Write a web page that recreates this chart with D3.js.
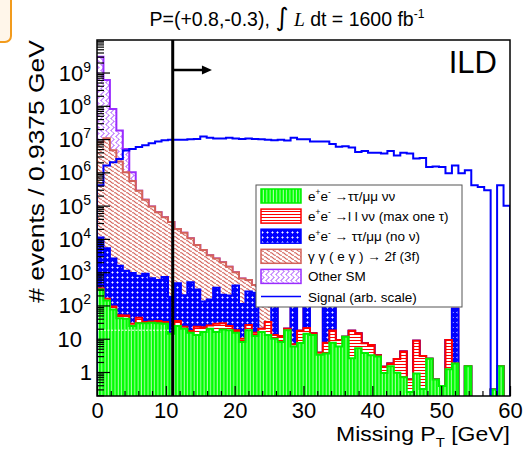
<!DOCTYPE html>
<html>
<head>
<meta charset="utf-8">
<script src="https://cdn.jsdelivr.net/npm/d3@7"></script>
<style>
  body { margin: 0; background: #fff; }
  text { font-family: "Liberation Sans", Arial, sans-serif; fill: #000; }
</style>
</head>
<body>
<div class="chart"></div>
<script>
/* Binning: 64 bins of 0.9375 GeV over 0-60 GeV */
const binWidth = 0.9375;
const nBins = 64;

/* Per-process contributions per bin (stacked bottom -> top) */
const green = [300,140,75,41,40,24,29,29,30,29, 28,14,24,20,15,13,16,20,16,19,
  18,15,8,18,12,16,13,10,8,18, 5.8,7.5,14,13,3.3,3.6,7.6,5.8,11.5,2.6,
  5.2,3.7,3.2,2.9,0.93,1.5,0.95,0.7,0.25,0.9, 0.31,2.5,0.6,0.38,1.2,1.8,0,1.5,0,0,
  0,0.3,1.5,0];
const red = [30,20,18,10,10,4,14,3,3,5, 4,0,10,3,2,10,6,5,12,10,
  6,3,2,8,3,4,19,3,4,2, 1,10,7,1.5,0.5,4,10,3.3,0,14.8,
  9.3,3.6,3.3,0.3,0.5,0.3,1.5,3.4,0.35,7.8, 2.7,0,0,0,7.9,0,0,0,0,0,
  0,0,0,0];
const blue = [10700,5040,2500,1500,1050,920,740,870,620,550, 690,170,430,180,480,280,110,125,310,180,
  175,380,100,235,225,0,0,290,0,0, 245,0,280,0,0,245,230,0,0,0,
  0,0,0,0,0,0,0,0,0,0, 0,0,0,0,0,78,0,0,0,0,
  0,0,0,0];
const gammaGamma = [8.0e6,1.05e7,4.6e6,2.1e6,1.0e6,5.5e5,2.8e5,1.5e5,9.4e4,6.3e4,
  4.4e4,3.2e4,1.95e4,1.5e4,1.0e4,6200,4470,3050,2260,1790,
  1250,600,540,320,170,260,148,0,0,0, 0,0,0,0,0,0,0,0,0,0,
  0,0,0,0,0,0,0,0,0,0, 0,0,0,0,0,0,0,0,0,0,
  0,0,0,0];
const otherSM = [2.99e9,5.9e8,7.5e7,1.6e7,4.0e6,4.5e5,0,0,0,0,
  0,0,0,0,0,0,0,0,0,0, 0,0,0,0,0,0,0,0,0,0, 0,0,0,0,0,0,0,0,0,0,
  0,0,0,0,0,0,0,0,0,0, 0,0,0,0,0,0,0,0,0,0, 0,0,0,0];
const signal = [4.1e5,1.6e6,2.0e6,2.5e6,4.5e6,5.0e6,5.8e6,6.5e6,7.5e6,8.5e6,
  9.3e6,9.5e6,9.6e6,9.5e6,9.8e6,1.0e7,1.2e7,1.1e7,1.05e7,1.05e7,
  1.1e7,1.05e7,1.0e7,1.05e7,1.0e7,9.8e6,9.5e6,9.2e6,9.5e6,9.0e6,
  1.1e7,9.9e6,9.9e6,8.5e6,8.5e6,8.5e6,7.1e6,5.9e6,6.1e6,5.6e6,
  4.1e6,4.4e6,3.9e6,3.9e6,3.7e6,4.4e6,3.2e6,3.9e6,3.7e6,2.6e6,
  2.7e6,1.45e6,1.5e6,1.45e6,9.4e5,1.6e6,9.4e5,1.15e6,4.1e5,3.6e5,
  2.9e5,0,4.1e5,1.0e5];

/* Axis ticks */
const xMajor = [0,10,20,30,40,50,60];
const yMajorExp = [0,1,2,3,4,5,6,7,8,9];

/* Cut at 11 GeV, arrow towards larger values */
const cutValue = 11;
const arrowEnd = 16.7;
const arrowLevel = 1.2e9;
const whiteTrace = { level: 18, from: 0, to: 11 };

const legendLabels = [
  [{t:"e"},{t:"+",s:"sup"},{t:"e"},{t:"-",s:"sup"},{t:" \u2192\u03c4\u03c4/\u03bc\u03bc  \u03bd\u03bd"}],
  [{t:"e"},{t:"+",s:"sup"},{t:"e"},{t:"-",s:"sup"},{t:" \u2192l l  \u03bd\u03bd (max one \u03c4)"}],
  [{t:"e"},{t:"+",s:"sup"},{t:"e"},{t:"-",s:"sup"},{t:" \u2192 \u03c4\u03c4/\u03bc\u03bc (no \u03bd)"}],
  [{t:"\u03b3 \u03b3 ( e \u03b3 ) \u2192 2f (3f)"}],
  [{t:"Other SM"}],
  [{t:"Signal (arb. scale)"}]
];

/* Dimensions */
const w = 531, h = 450;
const fx0 = 97, fx1 = 510, fy0 = 40, fy1 = 396;
const floorVal = 0.05;

const xScale = d3.scaleLinear().domain([0, 60]).range([fx0, fx1]);
const yScale = d3.scaleLog().domain([0.19, 9.5e9]).range([fy1, fy0]);

const svg = d3.select(".chart").append("svg")
  .attr("width", w).attr("height", h);

svg.append("rect").attr("width", w).attr("height", h).attr("fill", "#fff");

/* slide corner decoration */
svg.append("rect")
  .attr("x", -20).attr("y", -20).attr("width", 31).attr("height", 62).attr("rx", 6)
  .attr("fill", "#fff6ea").attr("stroke", "#f29b1d").attr("stroke-width", 2);

/* Fill patterns */
const defs = svg.append("defs");
const pat = (id, pw, ph, bg) => {
  const p = defs.append("pattern").attr("id", id).attr("patternUnits", "userSpaceOnUse")
    .attr("width", pw).attr("height", ph);
  p.append("rect").attr("width", pw).attr("height", ph).attr("fill", bg);
  return p;
};
pat("pGreen", 3.3, 6, "#00ff00").append("rect")
  .attr("x", 2.3).attr("width", 0.9).attr("height", 6).attr("fill", "#fff").attr("opacity", 0.75);
pat("pRed", 6, 3, "#fff").append("path")
  .attr("d", "M0,1.5H6").attr("stroke", "#ff0000").attr("stroke-width", 1);
pat("pBlue", 5, 5, "#0000ff").append("path")
  .attr("d", "M1.3,2.5h2.4M2.5,1.3v2.4").attr("stroke", "#fff").attr("stroke-width", 0.8);
pat("pSalmon", 6, 4, "#fff").append("path")
  .attr("d", "M0,0.8H1.6L4.4,3.2H6").attr("stroke", "#d4625a").attr("stroke-width", 1.05).attr("fill", "none");
pat("pPurple", 5, 6, "#fff").append("path")
  .attr("d", "M2.5,0C4.5,1.5 4.5,1.5 2.5,3C0.5,4.5 0.5,4.5 2.5,6")
  .attr("stroke", "#9a2cff").attr("stroke-width", 1).attr("fill", "none");

svg.append("clipPath").attr("id", "frameClip").append("rect")
  .attr("x", fx0).attr("y", fy0).attr("width", fx1 - fx0).attr("height", fy1 - fy0);

/* Stack the backgrounds */
const layers = [
  { values: green, stroke: "#00ee00", fill: "url(#pGreen)" },
  { values: red, stroke: "#ff0000", fill: "url(#pRed)" },
  { values: blue, stroke: "#0000ff", fill: "url(#pBlue)" },
  { values: gammaGamma, stroke: "#d4625a", fill: "url(#pSalmon)" },
  { values: otherSM, stroke: "#9a2cff", fill: "url(#pPurple)" }
];
let running = new Array(nBins).fill(0);
layers.forEach(l => {
  running = running.map((v, i) => v + l.values[i]);
  l.cum = running.slice();
});

const edges = d3.range(nBins + 1).map(i => i * binWidth);
const stepPoints = (vals) => {
  const pts = [[edges[0], floorVal]];
  vals.forEach((v, i) => pts.push([edges[i], Math.max(v, floorVal)]));
  pts.push([edges[nBins], Math.max(vals[nBins - 1], floorVal)]);
  pts.push([edges[nBins], floorVal]);
  return pts;
};
const area = d3.area().x(d => xScale(d[0])).y0(yScale(floorVal)).y1(d => yScale(d[1]))
  .curve(d3.curveStepAfter);
const line = d3.line().x(d => xScale(d[0])).y(d => yScale(d[1])).curve(d3.curveStepAfter);

const plot = svg.append("g").attr("clip-path", "url(#frameClip)");

layers.slice().reverse().forEach(l => {
  const pts = stepPoints(l.cum);
  plot.append("path").attr("d", area(pts)).attr("fill", l.fill);
  plot.append("path").attr("d", line(pts)).attr("fill", "none")
    .attr("stroke", l.stroke).attr("stroke-width", 2);
});

/* white dotted trace inside the green */
plot.append("line")
  .attr("x1", xScale(whiteTrace.from)).attr("x2", xScale(whiteTrace.to))
  .attr("y1", yScale(whiteTrace.level)).attr("y2", yScale(whiteTrace.level))
  .attr("stroke", "#fff").attr("stroke-width", 1).attr("stroke-dasharray", "2,1.5");

/* signal */
plot.append("path").attr("d", line(stepPoints(signal))).attr("fill", "none")
  .attr("stroke", "#0000ff").attr("stroke-width", 2);

/* cut line and arrow */
svg.append("line")
  .attr("x1", xScale(cutValue)).attr("x2", xScale(cutValue))
  .attr("y1", fy0).attr("y2", fy1)
  .attr("stroke", "#000").attr("stroke-width", 3);
svg.append("line")
  .attr("x1", xScale(cutValue)).attr("x2", xScale(arrowEnd) - 6)
  .attr("y1", yScale(arrowLevel)).attr("y2", yScale(arrowLevel))
  .attr("stroke", "#000").attr("stroke-width", 2.5);
const ax = xScale(arrowEnd), ay = yScale(arrowLevel);
svg.append("path")
  .attr("d", `M${ax},${ay}L${ax - 10},${ay - 4.5}L${ax - 10},${ay + 4.5}Z`)
  .attr("fill", "#000");

/* Axes (ticks inside the frame) */
const xMinor = d3.range(0, 61, 2).filter(v => v % 10 !== 0);
svg.append("g").attr("transform", `translate(0,${fy1})`)
  .call(d3.axisBottom(xScale).tickValues(xMinor).tickSize(-5).tickFormat(""))
  .call(g => g.select(".domain").remove());
svg.append("g").attr("transform", `translate(0,${fy1})`)
  .call(d3.axisBottom(xScale).tickValues(xMajor).tickSize(-10).tickPadding(6).tickFormat(d3.format("d")))
  .call(g => g.select(".domain").remove())
  .call(g => g.selectAll("text").attr("font-size", 22).attr("font-family", "Liberation Sans, Arial, sans-serif").attr("fill", "#000"));

const yMajor = yMajorExp.map(e => Math.pow(10, e));
const yMinor = [];
d3.range(-1, 10).forEach(e => d3.range(2, 10).forEach(m => {
  const v = m * Math.pow(10, e);
  if (v >= 0.19 && v <= 9.5e9) yMinor.push(v);
}));
svg.append("g").attr("transform", `translate(${fx0},0)`)
  .call(d3.axisLeft(yScale).tickValues(yMinor).tickSize(-7).tickFormat(""))
  .call(g => g.select(".domain").remove());
svg.append("g").attr("transform", `translate(${fx0},0)`)
  .call(d3.axisLeft(yScale).tickValues(yMajor).tickSize(-13).tickFormat(""))
  .call(g => g.select(".domain").remove());
svg.selectAll(".tick line").attr("stroke", "#000").attr("stroke-width", 1.2);

/* y tick labels, ROOT style 10^n */
const yLab = svg.append("g");
yMajorExp.forEach(e => {
  const yy = yScale(Math.pow(10, e)) + 8;
  if (e === 0) {
    yLab.append("text").attr("x", 92).attr("y", yy).attr("text-anchor", "end")
      .attr("font-size", 22).text("1");
  } else if (e === 1) {
    yLab.append("text").attr("x", 82).attr("y", yy).attr("text-anchor", "end")
      .attr("font-size", 22).text("10");
  } else {
    const t = yLab.append("text").attr("x", 91).attr("y", yy).attr("text-anchor", "end")
      .attr("font-size", 22);
    t.append("tspan").text("10");
    t.append("tspan").attr("font-size", 14).attr("dy", -9).text(e);
  }
});

/* Frame */
svg.append("rect").attr("x", fx0).attr("y", fy0)
  .attr("width", fx1 - fx0).attr("height", fy1 - fy0)
  .attr("fill", "none").attr("stroke", "#000").attr("stroke-width", 1.5);

/* rich text helper: sup / sub / italic / big parts */
const richText = (sel, parts, size) => {
  let shift = 0;
  parts.forEach(p => {
    const t = sel.append("tspan").text(p.t);
    let target = 0;
    if (p.s === "sup") { target = -size * 0.42; t.attr("font-size", size * 0.62); }
    else if (p.s === "sub") { target = size * 0.3; t.attr("font-size", size * 0.65); }
    else if (p.s === "i") { t.attr("font-style", "italic").attr("font-family", "Liberation Serif, serif"); }
    else if (p.s === "big") { t.attr("font-size", size * 1.3).attr("font-family", "DejaVu Sans, sans-serif"); }
    if (target !== shift) { t.attr("dy", target - shift); shift = target; }
  });
};

/* Titles */
const title = svg.append("text").attr("x", 287).attr("y", 26).attr("text-anchor", "middle")
  .attr("font-size", 19.5);
richText(title, [{t:"P=(+0.8,-0.3), "},{t:"\u222b",s:"big"},{t:" "},{t:"L",s:"i"},
  {t:" dt = 1600 fb"},{t:"-1",s:"sup"}], 19.5);

const xTitle = svg.append("text").attr("transform", "translate(510,441) scale(1.15,1)")
  .attr("x", 0).attr("y", 0).attr("text-anchor", "end")
  .attr("font-size", 20);
richText(xTitle, [{t:"Missing P"},{t:"T",s:"sub"},{t:" [GeV]"}], 20);

svg.append("text").attr("transform", "translate(44,0) rotate(-90) scale(1.2,1)")
  .attr("x", -33.5).attr("y", 0).attr("text-anchor", "end")
  .attr("font-size", 22).text("# events / 0.9375 GeV");

svg.append("text").attr("x", 497).attr("y", 73).attr("text-anchor", "end")
  .attr("font-size", 31).text("ILD");

/* Legend */
const lg = { x: 256, y: 185, w: 206, h: 122, row: 20.1 };
svg.append("rect").attr("x", lg.x).attr("y", lg.y).attr("width", lg.w).attr("height", lg.h)
  .attr("fill", "#fff").attr("stroke", "#555").attr("stroke-width", 1);
const swatches = layers.map(l => ({ fill: l.fill, stroke: l.stroke }));
legendLabels.forEach((parts, i) => {
  const cy = lg.y + 11 + i * lg.row;
  if (i < 5) {
    const s = swatches[i];
    svg.append("rect").attr("x", lg.x + 5).attr("y", cy - 7).attr("width", 40).attr("height", 14)
      .attr("fill", s.fill).attr("stroke", s.stroke).attr("stroke-width", 1.5);
  } else {
    svg.append("line").attr("x1", lg.x + 5).attr("x2", lg.x + 45).attr("y1", cy).attr("y2", cy)
      .attr("stroke", "#0000ff").attr("stroke-width", 1.5);
  }
  const t = svg.append("text").attr("x", lg.x + 52).attr("y", cy + 5).attr("font-size", 13.5);
  richText(t, parts, 13.5);
});
</script>
</body>
</html>
